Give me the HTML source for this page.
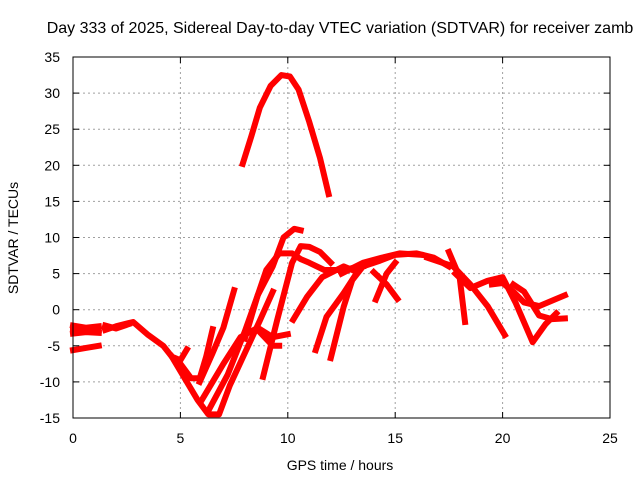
<!DOCTYPE html>
<html><head><meta charset="utf-8"><style>
body{margin:0;background:#fff}
svg{font-family:"Liberation Sans",sans-serif;font-size:14px}
</style></head><body>
<svg width="640" height="480">
<g id="grid"></g>
<g id="series"></g>
<rect x="73" y="57" width="537" height="361" fill="none" stroke="#000" stroke-width="1"/>
<g id="ticks"></g>
<text x="340" y="33" text-anchor="middle" font-size="16">Day 333 of 2025, Sidereal Day-to-day VTEC variation (SDTVAR) for receiver zamb</text>
<text x="340" y="470" text-anchor="middle">GPS time / hours</text>
<text x="18" y="238" text-anchor="middle" transform="rotate(-90 18 238)">SDTVAR / TECUs</text>
</svg>
<script>
const xTicks=[0,5,10,15,20,25];
const yTicks=[-15,-10,-5,0,5,10,15,20,25,30,35];
const s1=[[7.9,20.2],[8.3,24],[8.7,28],[9.2,31],[9.7,32.5],[10.1,32.3],[10.5,30.5],[11.0,26],[11.5,21],[11.9,16]];
const s2=[[0,-2.2],[0.6,-2.5],[1.2,-2.3]];
const s3=[[0,-3.3],[0.6,-3.1],[1.2,-3.2]];
const s3b=[[0,-2.8],[0.6,-2.8],[1.2,-2.8]];
const s4=[[0,-5.6],[0.6,-5.3],[1.2,-5.0]];
const s5=[[1.5,-2.8],[2.0,-2.3],[2.8,-1.7],[3.5,-3.5],[4.2,-5],[4.6,-6.5],[5.0,-7],[5.3,-5.5]];
const s5b=[[1.5,-2.2],[2.0,-2.6],[2.6,-2.0]];
const s6=[[4.6,-6.5],[5.2,-9.5],[5.8,-12.5],[6.3,-14.5],[6.8,-14.5],[7.3,-10.5],[8.0,-6],[8.7,-1.5],[9.3,2.5]];
const s7=[[5.0,-7.5],[5.5,-9.5],[5.9,-9.5],[6.2,-6.5],[6.5,-2.7]];
const s8=[[5.9,-10],[6.5,-6],[7.0,-2.5],[7.5,2.7]];
const s9=[[6.0,-12.5],[7.0,-7.5],[7.8,-3.8],[8.6,-2.5],[9.3,-3.8],[10.0,-3.4]];
const s10=[[8.6,-2.8],[9.3,-5],[9.6,-5]];
const s11=[[6.3,-14],[7.2,-9],[8.0,-3],[8.6,2],[9.3,6],[9.8,10],[10.3,11.2],[10.6,11]];
const s12=[[8.0,-4],[8.6,2],[9.0,5.5],[9.6,7.8],[10.2,7.8],[10.6,7],[11.0,6.5],[11.7,5.5],[12.5,5.5],[13.5,6]];
const s13=[[8.85,-9.3],[9.5,-1.5],[10.2,6.5],[10.6,8.8],[11.0,8.7],[11.5,8],[12.0,6.5]];
const s14=[[10.25,-1.4],[10.9,1.8],[11.6,4.5],[12.6,6],[13.0,5.5]];
const s15=[[11.3,-5.6],[11.8,-1],[12.6,2.3],[13.3,5.5]];
const s16=[[12.0,-6.7],[12.6,0.4],[13.0,4.1],[13.5,6],[14.3,6.8],[15.0,7.6],[16.0,7.8],[16.8,7.2],[17.5,6]];
const s17=[[12.5,5],[13.5,6.5],[14.5,7.3],[15.2,7.8],[16.2,7.6]];
const s18=[[14.1,1.4],[14.6,5],[15.0,6.5]];
const s19=[[14.0,5.2],[14.6,3.5],[15.1,1.5]];
const s20=[[17.5,8],[18.0,4.5],[18.25,-1.7]];
const s21=[[16.5,7.2],[17.7,6],[18.5,3.5],[19.3,0.5],[20.1,-3.5]];
const s22=[[17.8,5],[18.5,3],[19.3,4],[20.0,4.5],[20.6,1],[21.4,-4.5],[22.0,-2],[22.5,-0.5]];
const s23=[[19.5,3.5],[20.0,3.7],[20.5,2.5],[21.0,1],[21.7,0.5],[22.5,1.5],[22.9,2]];
const s24=[[20.5,3.5],[21.0,2.5],[21.7,-0.8],[22.3,-1.3],[22.9,-1.2]];
const allSeries=[s1,s2,s3,s3b,s4,s5,s5b,s6,s7,s8,s9,s10,s11,s12,s13,s14,s15,s16,s17,s18,s19,s20,s21,s22,s23,s24];
const X=h=>73+h*537/25, Y=v=>418-(v+15)*361/50;
const NS="http://www.w3.org/2000/svg";
const grid=document.getElementById('grid'),ticks=document.getElementById('ticks'),ser=document.getElementById('series');
function mk(tag,at,parent){const e=document.createElementNS(NS,tag);for(const k in at)e.setAttribute(k,at[k]);parent.appendChild(e);return e;}
xTicks.forEach(t=>{
 const x=X(t);
 if(t>0&&t<25){const g=mk('line',{x1:x,y1:57,x2:x,y2:418,stroke:'#a0a0a0','stroke-dasharray':'2,3'},grid);
 
 }
 const l=mk('text',{x:x,y:443,'text-anchor':'middle'},ticks);l.textContent=t;
 
 
 mk('line',{x1:x,y1:418,x2:x,y2:412,stroke:'#000'},ticks);mk('line',{x1:x,y1:57,x2:x,y2:63,stroke:'#000'},ticks);
});
yTicks.forEach(t=>{
 const y=Y(t);
 if(t>-15&&t<35){const g=mk('line',{x1:73,y1:y,x2:610,y2:y,stroke:'#a0a0a0','stroke-dasharray':'2,3'},grid);
 
 }
 const l=mk('text',{x:60,y:y+5,'text-anchor':'end'},ticks);l.textContent=t;
 
 
 mk('line',{x1:73,y1:y,x2:79,y2:y,stroke:'#000'},ticks);mk('line',{x1:610,y1:y,x2:604,y2:y,stroke:'#000'},ticks);
});
allSeries.forEach(s=>{
 const p=mk('polyline',{points:s.map(d=>X(d[0])+','+Y(d[1])).join(' '),fill:'none',stroke:'#ff0000','stroke-width':6,'stroke-linejoin':'round','stroke-linecap':'square'},ser);
 
 
});
</script>
</body></html>
